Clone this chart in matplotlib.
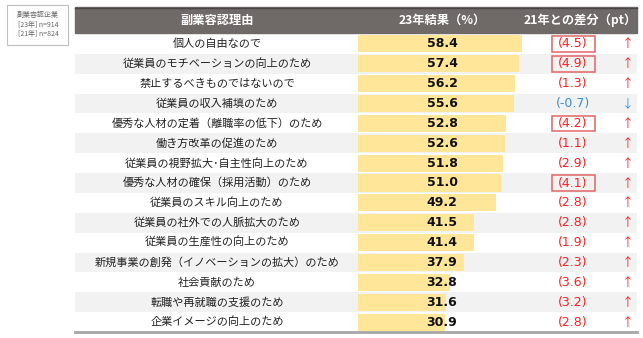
import matplotlib
matplotlib.use("Agg")
import matplotlib.pyplot as plt
from matplotlib.patches import Rectangle

plt.rcParams['font.family'] = ['Noto Sans CJK JP', 'DejaVu Sans']

reasons = [
    "個人の自由なので",
    "従業員のモチベーションの向上のため",
    "禁止するべきものではないので",
    "従業員の収入補填のため",
    "優秀な人材の定着（離職率の低下）のため",
    "働き方改革の促進のため",
    "従業員の視野拡大･自主性向上のため",
    "優秀な人材の確保（採用活動）のため",
    "従業員のスキル向上のため",
    "従業員の社外での人脈拡大のため",
    "従業員の生産性の向上のため",
    "新規事業の創発（イノベーションの拡大）のため",
    "社会貢献のため",
    "転職や再就職の支援のため",
    "企業イメージの向上のため",
]
result23 = [58.4, 57.4, 56.2, 55.6, 52.8, 52.6, 51.8, 51.0, 49.2, 41.5, 41.4, 37.9, 32.8, 31.6, 30.9]
diff21 = [4.5, 4.9, 1.3, -0.7, 4.2, 1.1, 2.9, 4.1, 2.8, 2.8, 1.9, 2.3, 3.6, 3.2, 2.8]
headers = ["副業容認理由", "23年結果（%）", "21年との差分（pt）"]
legend_lines = ["副業容認企業", "[23年] n=914", "[21年] n=824"]

W, H = 643, 338
n = len(reasons)
top, bottom = 34, 332
rowh = (bottom - top) / n
left, right = 75, 637
bar_x0 = 358

fig = plt.figure(figsize=(W / 100, H / 100), dpi=100)
ax = fig.add_axes([0, 0, 1, 1])
ax.set_xlim(0, W)
ax.set_ylim(H, 0)
ax.axis('off')

# header
ax.add_patch(Rectangle((left, 7), right - left, top - 8, color='#6f6967', zorder=1))
ax.plot([left, right], [7.5, 7.5], color='#4a4544', lw=1, zorder=2)
hx = [217, 442, 580]
for x, t in zip(hx, headers):
    ax.text(x, 20, t, color='white', fontsize=8.8, fontweight='bold',
            ha='center', va='center', zorder=3)

# row backgrounds
for i in range(n):
    if i % 2 == 1:
        ax.add_patch(Rectangle((left, top + i * rowh), right - left, rowh,
                               color='#f2f2f2', lw=0, zorder=0))
ax.plot([left, right], [bottom, bottom], color='#a6a6a6', lw=2, zorder=2)

# legend box
ax.add_patch(Rectangle((7, 5), 61, 40, fill=False, edgecolor='#bfbfbf', lw=0.8))
for j, t in enumerate(legend_lines):
    ax.text(38, 15 + j * 9.5, t, fontsize=5, color='#666666', ha='center', va='center')

# bars
axb = fig.add_axes([bar_x0 / W, (H - bottom) / H, 280 / W, (bottom - top) / H])
axb.set_xlim(0, 100)
axb.set_ylim(n - 0.5, -0.5)
axb.barh(range(n), result23, height=0.86, color='#ffe699', zorder=1)
axb.axis('off')
axb.patch.set_alpha(0)

for i in range(n):
    yc = top + (i + 0.5) * rowh
    ax.text(217, yc, reasons[i], fontsize=8, color='#222222', ha='center', va='center')
    d = diff21[i]
    col = '#ff2020' if d >= 0 else '#3d8fd6'
    axb.text(30, i, f"{result23[i]:.1f}", fontsize=9, fontweight='bold',
             color='#111111', ha='center', va='center', zorder=3,
             family=['DejaVu Sans'])
    ax.text(573, yc, f"({d:.1f})", fontsize=9, color=col, ha='center', va='center',
            family=['DejaVu Sans'])
    ax.text(628, yc, "↑" if d >= 0 else "↓", fontsize=8.5, color=col,
            ha='center', va='center')
    if d >= 4:
        ax.add_patch(Rectangle((551.5, yc - 7.8), 43.5, 15.6, fill=False,
                               edgecolor='#e06666', lw=1.1, zorder=2))

fig.savefig("out.png", dpi=100)
